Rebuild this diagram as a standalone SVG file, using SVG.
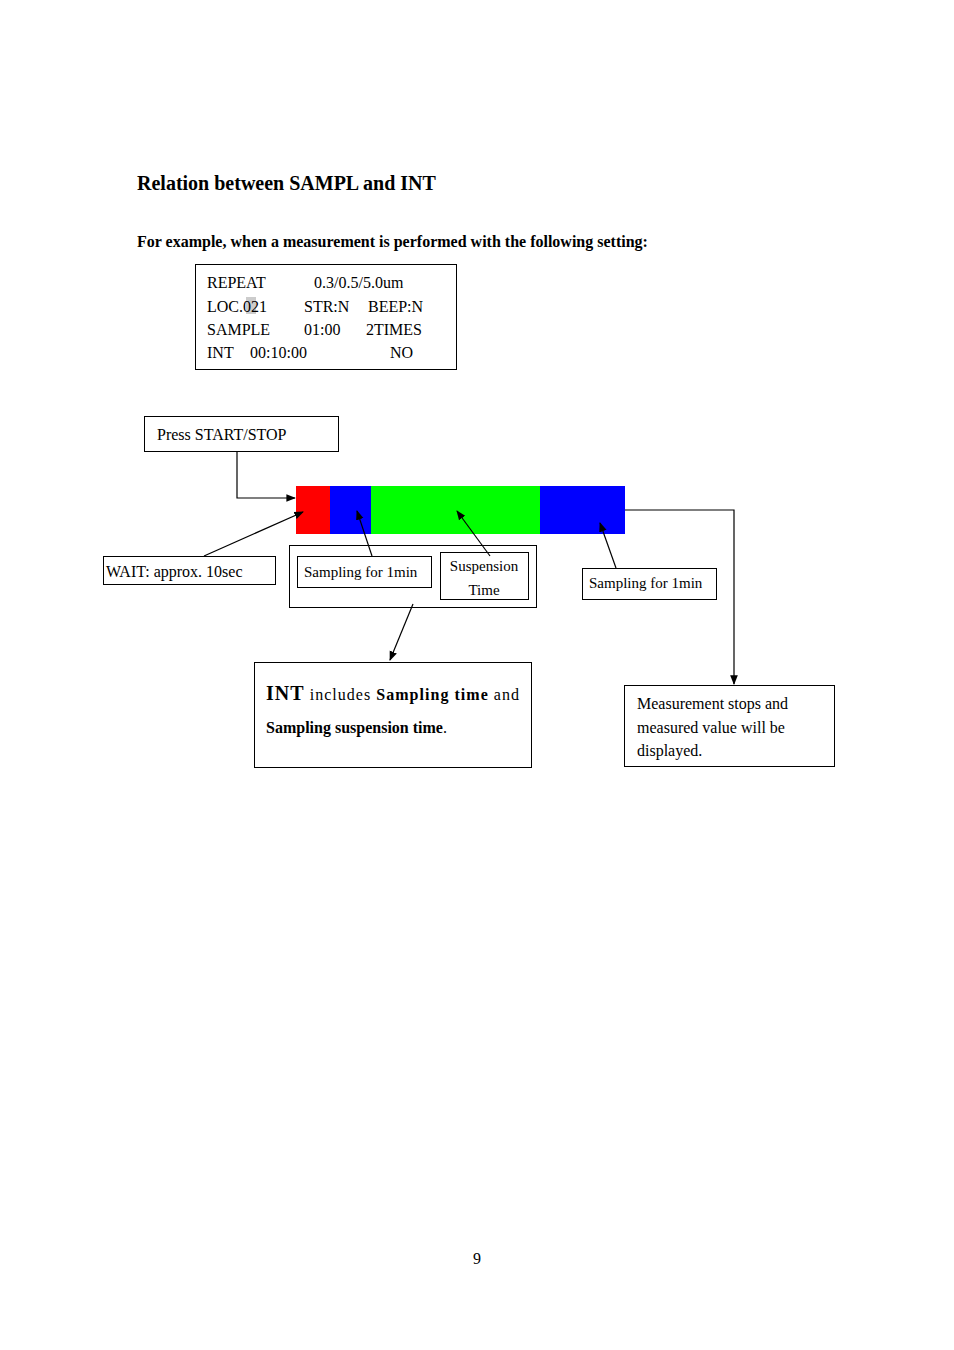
<svg xmlns="http://www.w3.org/2000/svg" width="954" height="1350" viewBox="0 0 954 1350">
<defs>
<style>
text{font-family:"Liberation Serif",serif;fill:#000}
.b{fill:#fff;stroke:#000;stroke-width:1}
.l{fill:none;stroke:#000;stroke-width:1.2}
</style>
<marker id="a" viewBox="0 0 10 10" refX="9" refY="5" markerWidth="8" markerHeight="8" orient="auto"><path d="M0,1L10,5L0,9z" fill="#000"/></marker>
</defs>
<rect width="954" height="1350" fill="#fff"/>
<text x="137" y="190" font-size="20" font-weight="bold">Relation between SAMPL and INT</text>
<text x="137" y="247" font-size="16" font-weight="bold">For example, when a measurement is performed with the following setting:</text>
<g id="setting">
<rect class="b" x="195.5" y="264.5" width="261" height="105" stroke-width="1.5"/>
<rect x="246" y="297" width="10" height="17" fill="#ccc"/>
<g font-size="16">
<text x="207" y="288">REPEAT</text><text x="314" y="288">0.3/0.5/5.0um</text>
<text x="207" y="312">LOC.021</text><text x="304" y="312">STR:N</text><text x="368" y="312">BEEP:N</text>
<text x="207" y="335">SAMPLE</text><text x="304" y="335">01:00</text><text x="366" y="335">2TIMES</text>
<text x="207" y="358">INT</text><text x="250" y="358">00:10:00</text><text x="390" y="358">NO</text>
</g>
</g>
<g id="bar">
<rect x="296" y="486" width="34" height="48" fill="#f00"/>
<rect x="330" y="486" width="41" height="48" fill="#00f"/>
<rect x="371" y="486" width="169" height="48" fill="#0f0"/>
<rect x="540" y="486" width="85" height="48" fill="#00f"/>
</g>
<g id="press"><rect class="b" x="144.5" y="416.5" width="194" height="35"/><text x="157" y="440" font-size="16">Press START/STOP</text></g>
<g id="wait"><rect class="b" x="103.5" y="556.5" width="172" height="28"/><text x="106" y="577" font-size="16">WAIT: approx. 10sec</text></g>
<g id="group"><rect class="b" x="289.5" y="545.5" width="247" height="62"/></g>
<g id="samp1"><rect class="b" x="297.5" y="556.5" width="134" height="31"/><text x="304" y="577" font-size="15">Sampling for 1min</text></g>
<g id="susp"><rect class="b" x="440.5" y="552.5" width="88" height="47"/><text x="484" y="571" font-size="15" text-anchor="middle">Suspension</text><text x="484" y="595" font-size="15" text-anchor="middle">Time</text></g>
<g id="samp2"><rect class="b" x="582.5" y="568.5" width="134" height="31"/><text x="589" y="588" font-size="15">Sampling for 1min</text></g>
<g id="intnote"><rect class="b" x="254.5" y="662.5" width="277" height="105"/>
<text x="266" y="700" font-size="16" textLength="253" lengthAdjust="spacing"><tspan font-size="20" font-weight="bold">INT</tspan> includes <tspan font-weight="bold">Sampling time</tspan> and</text>
<text x="266" y="733" font-size="16"><tspan font-weight="bold">Sampling suspension time</tspan>.</text></g>
<g id="stop"><rect class="b" x="624.5" y="685.5" width="210" height="81"/>
<g font-size="16"><text x="637" y="709">Measurement stops and</text><text x="637" y="733">measured value will be</text><text x="637" y="756">displayed.</text></g></g>
<g id="connectors">
<path class="l" d="M237,452V498H295" marker-end="url(#a)"/>
<path class="l" d="M204,556L303,512" marker-end="url(#a)"/>
<path class="l" d="M372,556L357,511" marker-end="url(#a)"/>
<path class="l" d="M490,556L457,511" marker-end="url(#a)"/>
<path class="l" d="M616,568L600,523" marker-end="url(#a)"/>
<path class="l" d="M413,604L390,660" marker-end="url(#a)"/>
<path class="l" d="M625,510H734V684" marker-end="url(#a)"/>
</g>
<text x="477" y="1264" font-size="16" text-anchor="middle">9</text>
</svg>
